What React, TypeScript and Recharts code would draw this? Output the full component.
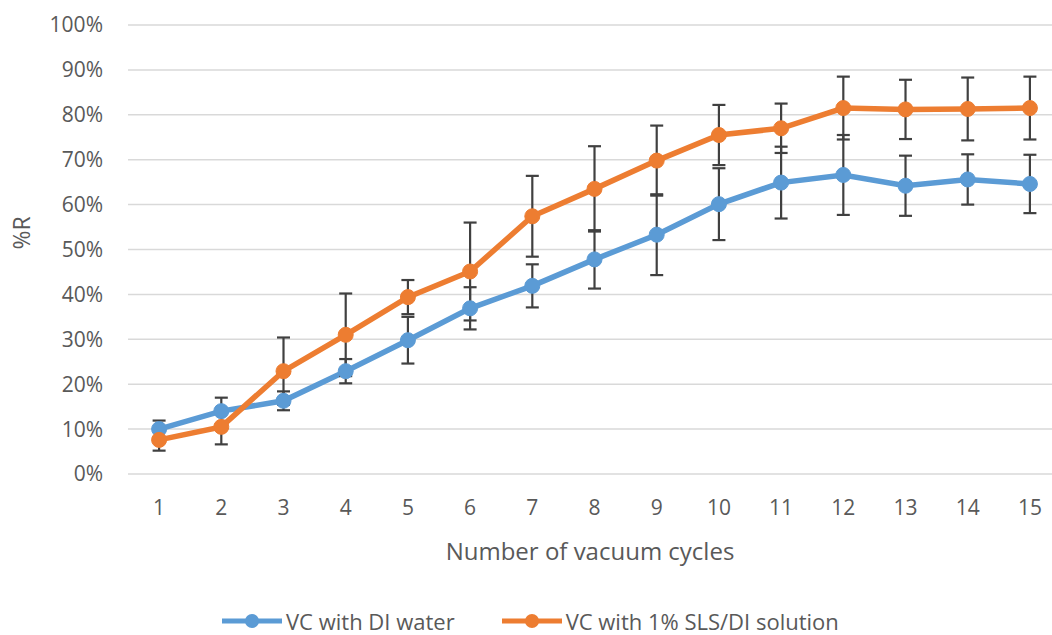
import React from "react";
import { LineChart, Line, XAxis, YAxis, CartesianGrid, ErrorBar } from "recharts";

const cycles = [1, 2, 3, 4, 5, 6, 7, 8, 9, 10, 11, 12, 13, 14, 15];
const diWater = [10.0, 14.0, 16.3, 22.9, 29.8, 36.9, 41.9, 47.8, 53.3, 60.1, 64.9, 66.6, 64.2, 65.6, 64.6];
const diWaterErr = [1.9, 3.0, 2.1, 2.7, 5.2, 4.7, 4.8, 6.5, 9.0, 8.0, 8.0, 8.9, 6.7, 5.6, 6.5];
const slsSolution = [7.6, 10.5, 22.9, 31.0, 39.4, 45.1, 57.4, 63.5, 69.8, 75.5, 77.0, 81.5, 81.2, 81.3, 81.5];
const slsSolutionErr = [2.4, 3.9, 7.5, 9.2, 3.8, 10.9, 9.0, 9.5, 7.8, 6.7, 5.5, 7.0, 6.6, 7.0, 7.0];
const yTicks = [0, 10, 20, 30, 40, 50, 60, 70, 80, 90, 100];

const seriesNames = ["VC with DI water", "VC with 1% SLS/DI solution"];
const BLUE = "#5B9BD5";
const ORANGE = "#ED7D31";
const TEXT = "#595959";
const FONT = "'Open Sans', sans-serif";

const data = cycles.map((c, i) => ({
  cycle: c,
  di: diWater[i],
  diErr: diWaterErr[i],
  sls: slsSolution[i],
  slsErr: slsSolutionErr[i],
}));

const LegendItem = ({ color, label, gap }: { color: string; label: string; gap: number }) => (
  <div style={{ display: "flex", alignItems: "center", marginRight: gap }}>
    <svg width={60} height={16} style={{ marginRight: 4 }}>
      <line x1={0} y1={8} x2={60} y2={8} stroke={color} strokeWidth={5} />
      <circle cx={30} cy={8} r={7} fill={color} />
    </svg>
    <span>{label}</span>
  </div>
);

export default function App() {
  return (
    <div style={{ position: "relative", width: 1052, height: 635, fontFamily: FONT }}>
      <style>{"body{margin:0;}"}</style>
      <LineChart
        width={1052}
        height={635}
        data={data}
        margin={{ top: 25, right: 0, left: 8, bottom: 0 }}
      >
        <CartesianGrid vertical={false} stroke="#d9d9d9" strokeWidth={1.5} />
        <XAxis
          dataKey="cycle"
          type="number"
          domain={[0.5, 15.355]}
          ticks={cycles}
          height={161}
          axisLine={false}
          tickLine={false}
          tickSize={0}
          tickMargin={26}
          tick={{ fill: TEXT, fontSize: 21, fontFamily: FONT }}
          label={{
            value: "Number of vacuum cycles",
            position: "insideTop",
            offset: 69,
            fill: TEXT,
            fontSize: 24,
            fontFamily: FONT,
          }}
        />
        <YAxis
          domain={[0, 100]}
          ticks={yTicks}
          width={120}
          axisLine={false}
          tickLine={false}
          tickSize={0}
          tickMargin={25}
          tickFormatter={(v: number) => `${v}%`}
          tick={{ fill: TEXT, fontSize: 21, fontFamily: FONT }}
          label={{
            value: "%R",
            angle: -90,
            position: "insideLeft",
            offset: 14,
            fill: TEXT,
            fontSize: 23,
            fontFamily: FONT,
          }}
        />
        <Line
          dataKey="di"
          name={seriesNames[0]}
          stroke={BLUE}
          strokeWidth={5.5}
          dot={{ r: 7.5, fill: BLUE, stroke: BLUE, strokeWidth: 1 }}
          isAnimationActive={false}
        >
          <ErrorBar dataKey="diErr" direction="y" width={6.5} stroke="#404040" strokeWidth={2.2} />
        </Line>
        <Line
          dataKey="sls"
          name={seriesNames[1]}
          stroke={ORANGE}
          strokeWidth={5.5}
          dot={{ r: 7.5, fill: ORANGE, stroke: ORANGE, strokeWidth: 1 }}
          isAnimationActive={false}
        >
          <ErrorBar dataKey="slsErr" direction="y" width={6.5} stroke="#404040" strokeWidth={2.2} />
        </Line>
      </LineChart>
      <div
        style={{
          position: "absolute",
          left: 222,
          top: 606,
          height: 30,
          display: "flex",
          alignItems: "center",
          fontSize: 22,
          lineHeight: "30px",
          color: TEXT,
          whiteSpace: "nowrap",
        }}
      >
        <LegendItem color={BLUE} label={seriesNames[0]} gap={47} />
        <LegendItem color={ORANGE} label={seriesNames[1]} gap={0} />
      </div>
    </div>
  );
}
